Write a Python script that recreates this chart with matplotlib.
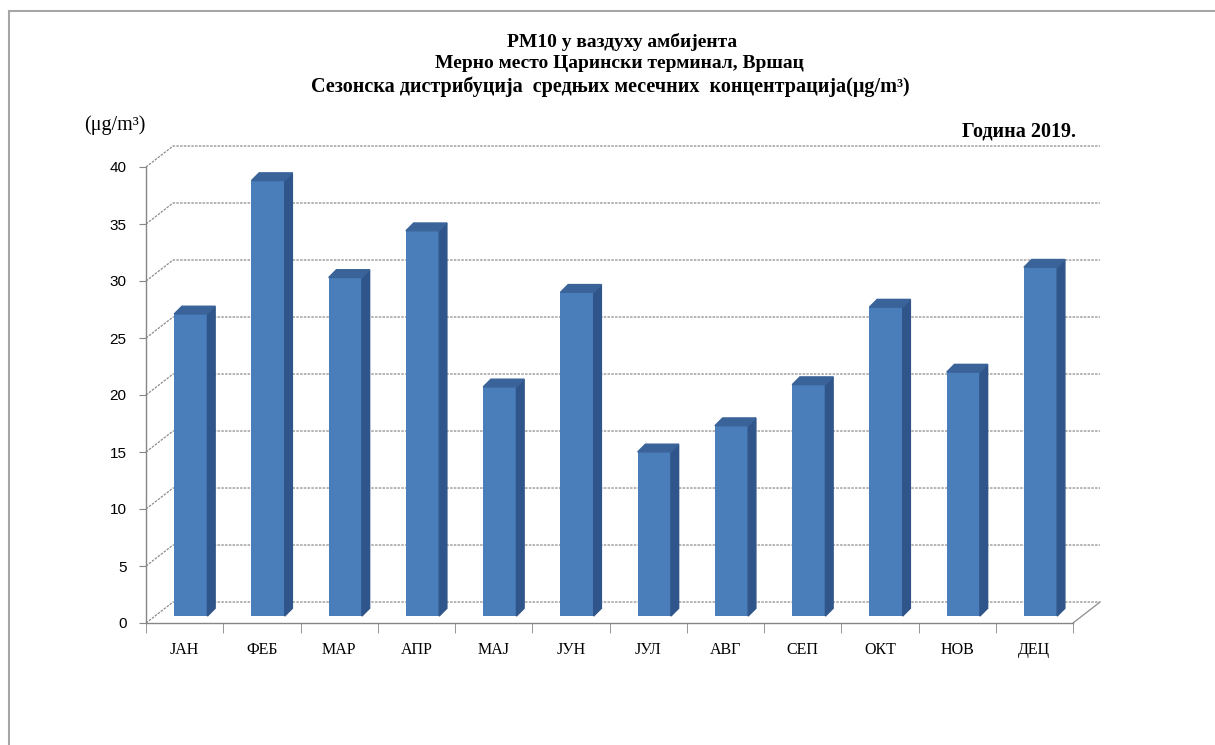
import numpy as np
import matplotlib
matplotlib.use("Agg")
import matplotlib.pyplot as plt
from matplotlib.patches import Polygon
from matplotlib.lines import Line2D

# monthly mean PM10 concentrations, Vrsac 2019
months = ['ЈАН', 'ФЕБ', 'МАР', 'АПР', 'МАЈ', 'ЈУН', 'ЈУЛ', 'АВГ', 'СЕП', 'ОКТ', 'НОВ', 'ДЕЦ']
pm10 = [26.5, 38.2, 29.7, 33.8, 20.1, 28.4, 14.4, 16.7, 20.3, 27.1, 21.4, 30.6]
yticks = [0, 5, 10, 15, 20, 25, 30, 35, 40]

W, H = 1215, 745
serif = 'Liberation Serif'
front_c = '#4A7EBB'
side_c = '#30558A'
top_c = '#3A6399'
grid_c = '#8C8C8C'

fig = plt.figure(figsize=(W / 100, H / 100), dpi=100)
ax = fig.add_axes([146 / W, (H - 623) / H, 927 / W, 456 / H])
ax.set_xlim(0, 12)
ax.set_ylim(0, 40)

# depth of the 3d walls and bars (data units)
dx, dy = 0.35, 1.84
ox, oy = 0.08, dy * 0.33
bdx, bdy = 0.1, 0.68
bw = 0.43

# back wall + side wall gridlines
for v in yticks:
    ax.plot([0, dx, 12 + dx], [v, v + dy, v + dy], color=grid_c, lw=0.9,
            ls=(0, (2, 1)), clip_on=False, zorder=1)
ax.plot([12, 12 + dx], [0, dy], color=grid_c, lw=0.9, clip_on=False, zorder=1)

x = np.arange(len(months)) + 0.5
ax.bar(x + ox, pm10, width=bw, bottom=oy, color=front_c, zorder=3)
for xi, v in zip(x, pm10):
    l = xi + ox - bw / 2
    r = xi + ox + bw / 2
    t = v + oy
    ax.add_patch(Polygon([(r, oy), (r + bdx, oy + bdy), (r + bdx, t + bdy), (r, t)],
                         closed=True, color=side_c, zorder=3, clip_on=False))
    ax.add_patch(Polygon([(l, t), (l + bdx, t + bdy), (r + bdx, t + bdy), (r, t)],
                         closed=True, color=top_c, zorder=3, clip_on=False))

for s in ['top', 'right']:
    ax.spines[s].set_visible(False)
for s in ['left', 'bottom']:
    ax.spines[s].set_color('#868686')
    ax.spines[s].set_linewidth(1)

ax.set_yticks(yticks)
ax.set_yticklabels([str(v) for v in yticks], family='Liberation Sans', fontsize=11)
ax.tick_params(axis='y', length=5, color='#868686', pad=9)
ax.set_xticks(x)
ax.set_xticklabels(months, family=serif, fontsize=11.5)
ax.tick_params(axis='x', which='major', length=0, pad=14)
ax.set_xticks(np.arange(13), minor=True)
ax.tick_params(axis='x', which='minor', length=7, color='#868686', direction='out')

# titles
fig.text(622 / W, 1 - 42 / H, 'PM10 у ваздуху амбијента', ha='center', va='center',
         family=serif, weight='bold', fontsize=14)
fig.text(619 / W, 1 - 64 / H, 'Мерно место Царински терминал, Вршац', ha='center', va='center',
         family=serif, weight='bold', fontsize=14)
fig.text(610 / W, 1 - 87 / H, 'Сезонска дистрибуција  средњих месечних  концентрација(μg/m³)',
         ha='center', va='center', family=serif, weight='bold', fontsize=14.5)
fig.text(84 / W, 1 - 125 / H, '(μg/m³)', ha='left', va='center', family=serif, fontsize=14.5)
fig.text(1076 / W, 1 - 132 / H, 'Година 2019.', ha='right', va='center', family=serif,
         weight='bold', fontsize=14.5)

# chart area border
fig.add_artist(Line2D([9 / W, 9 / W], [0, 1 - 11 / H], color='#A6A6A6', lw=1.5))
fig.add_artist(Line2D([9 / W, 1], [1 - 11 / H, 1 - 11 / H], color='#A6A6A6', lw=1.5))

fig.savefig('out.png', dpi=100, facecolor='white')
